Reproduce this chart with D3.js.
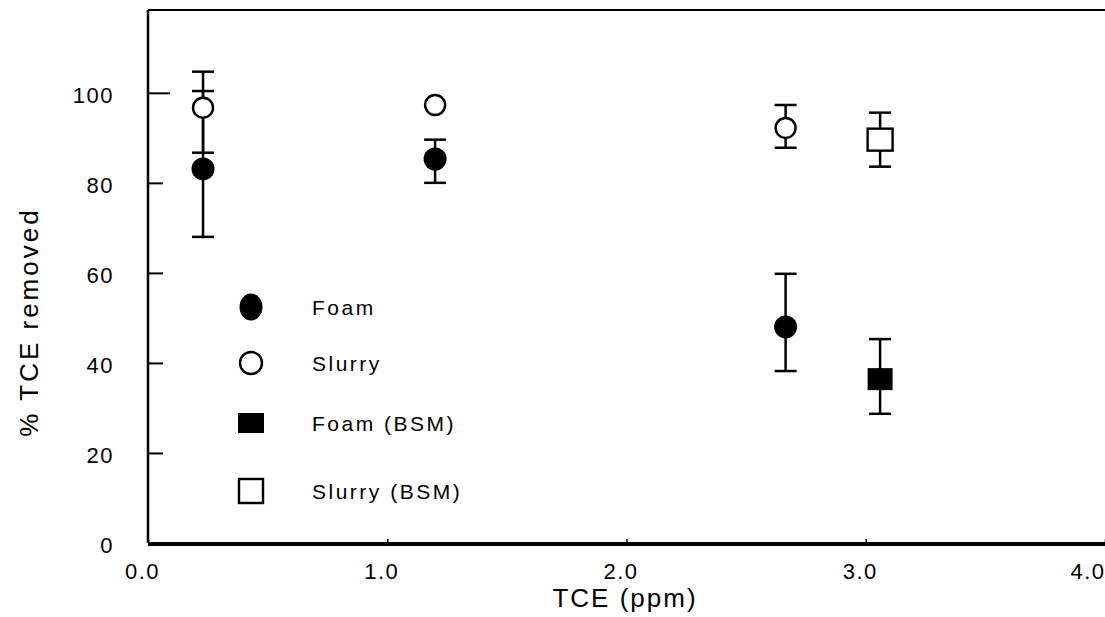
<!DOCTYPE html>
<html>
<head>
<meta charset="utf-8">
<script src="https://cdn.jsdelivr.net/npm/d3@7"></script>
<style>
  html, body { margin: 0; padding: 0; background: #fff; }
  svg { display: block; font-family: "Liberation Sans", Arial, sans-serif; }
</style>
</head>
<body>
<div id="chart"></div>
<script>
// values
const seriesNames = ['Foam', 'Slurry', 'Foam (BSM)', 'Slurry (BSM)'];

const foamX = [0.23, 1.20, 2.665];
const foamY = [83.1, 85.3, 48.0];
const foamHi = [100.4, 89.6, 59.8];
const foamLo = [68.0, 80.0, 38.2];

const slurryX = [0.23, 1.20, 2.665];
const slurryY = [96.7, 97.3, 92.2];
const slurryHi = [104.7, null, 97.3];
const slurryLo = [86.7, null, 87.8];

const foamBsmX = [3.06];
const foamBsmY = [36.4];
const foamBsmHi = [45.3];
const foamBsmLo = [28.7];

const slurryBsmX = [3.06];
const slurryBsmY = [89.6];
const slurryBsmHi = [95.6];
const slurryBsmLo = [83.6];

const xTicks = [0, 1, 2, 3, 4];
const yTicks = [0, 20, 40, 60, 80, 100];

function pack(xs, ys, his, los) {
    return xs.map((x, i) => ({ x: x, y: ys[i], hi: his[i], lo: los[i] }));
}

const series = [
    { name: seriesNames[0], shape: 'circle', filled: true, data: pack(foamX, foamY, foamHi, foamLo) },
    { name: seriesNames[1], shape: 'circle', filled: false, data: pack(slurryX, slurryY, slurryHi, slurryLo) },
    { name: seriesNames[2], shape: 'square', filled: true, data: pack(foamBsmX, foamBsmY, foamBsmHi, foamBsmLo) },
    { name: seriesNames[3], shape: 'square', filled: false, data: pack(slurryBsmX, slurryBsmY, slurryBsmHi, slurryBsmLo) }
];

const width = 1105;
const height = 617;
const margin = { top: 10, right: 0, bottom: 74, left: 148 };

const svg = d3.select('#chart')
    .append('svg')
    .attr('width', width)
    .attr('height', height);

const x = d3.scaleLinear()
    .domain([0, 4])
    .range([margin.left, width - margin.right]);

const y = d3.scaleLinear()
    .domain([0, 118.4])
    .range([height - margin.bottom, margin.top]);

// frame: top + left lines
svg.append('line')
    .attr('x1', margin.left).attr('x2', width)
    .attr('y1', margin.top).attr('y2', margin.top)
    .attr('stroke', '#000').attr('stroke-width', 2);

svg.append('line')
    .attr('x1', margin.left).attr('x2', margin.left)
    .attr('y1', margin.top).attr('y2', y(0))
    .attr('stroke', '#000').attr('stroke-width', 2.5);

// Y axis (ticks point inward)
const yAxis = svg.append('g')
    .attr('transform', `translate(${margin.left},0)`)
    .call(d3.axisRight(y).tickValues(yTicks).tickSize(15).tickPadding(0).tickFormat(d3.format('d')));
yAxis.select('.domain').remove();
yAxis.selectAll('.tick line')
    .attr('stroke-width', 2)
    .attr('x2', d => d === 100 ? 22 : 15)
    .style('display', d => d === 0 ? 'none' : null);
yAxis.selectAll('.tick text')
    .attr('x', -34)
    .attr('y', 2)
    .attr('dy', '0.36em')
    .attr('text-anchor', 'end')
    .attr('font-size', 22)
    .attr('letter-spacing', 1.5)
    .attr('fill', '#000');

// X axis (thick baseline, small ticks upward)
const xAxis = svg.append('g')
    .attr('transform', `translate(0,${y(0)})`)
    .call(d3.axisBottom(x).tickValues(xTicks).tickSize(0).tickPadding(0).tickFormat(d3.format('.1f')));
xAxis.select('.domain').remove();
svg.append('line')
    .attr('x1', margin.left).attr('x2', width)
    .attr('y1', y(0) + 1).attr('y2', y(0) + 1)
    .attr('stroke', '#000').attr('stroke-width', 4);
xAxis.selectAll('.tick line')
    .attr('y2', -4)
    .attr('stroke-width', 1.5);
xAxis.selectAll('.tick text')
    .attr('y', 36)
    .attr('dy', 0)
    .attr('dx', d => d === 4 ? 0 : -6)
    .attr('text-anchor', d => d === 4 ? 'end' : 'middle')
    .attr('font-size', 22)
    .attr('letter-spacing', 1.5)
    .attr('fill', '#000');

// axis titles
svg.append('text')
    .attr('x', 625)
    .attr('y', 607)
    .attr('text-anchor', 'middle')
    .attr('font-size', 26)
    .attr('letter-spacing', 2)
    .text('TCE (ppm)');

svg.append('text')
    .attr('transform', 'translate(38,322) rotate(-90)')
    .attr('text-anchor', 'middle')
    .attr('font-size', 26)
    .attr('letter-spacing', 3)
    .text('% TCE removed');

// error bars
const capHalf = 11;
const bars = series.flatMap(s => s.data.filter(d => d.hi != null));
const eb = svg.append('g').attr('stroke', '#000').attr('stroke-width', 2.5);
bars.forEach(d => {
    eb.append('line').attr('x1', x(d.x)).attr('x2', x(d.x)).attr('y1', y(d.hi)).attr('y2', y(d.lo));
    eb.append('line').attr('x1', x(d.x) - capHalf).attr('x2', x(d.x) + capHalf).attr('y1', y(d.hi)).attr('y2', y(d.hi));
    eb.append('line').attr('x1', x(d.x) - capHalf).attr('x2', x(d.x) + capHalf).attr('y1', y(d.lo)).attr('y2', y(d.lo));
});

// markers
function drawMarker(g, shape, filled, cx, cy, legendSize) {
    let w, h;
    if (shape === 'circle') {
        if (legendSize) { w = filled ? 23 : 22; h = filled ? 27 : 22; }
        else { w = filled ? 23 : 20; h = filled ? 23 : 20; }
        g.append('ellipse')
            .attr('cx', cx).attr('cy', cy)
            .attr('rx', w / 2).attr('ry', h / 2)
            .attr('fill', filled ? '#000' : '#fff')
            .attr('stroke', '#000').attr('stroke-width', filled ? 0 : 2.4);
    } else {
        if (legendSize) { w = filled ? 26 : 24; h = filled ? 20 : 24; }
        else { w = 25; h = 22; }
        g.append('rect')
            .attr('x', cx - w / 2).attr('y', cy - h / 2)
            .attr('width', w).attr('height', h)
            .attr('fill', filled ? '#000' : '#fff')
            .attr('stroke', '#000').attr('stroke-width', filled ? 0 : 2.4);
    }
}

const marks = svg.append('g');
series.forEach(s => {
    s.data.forEach(d => drawMarker(marks, s.shape, s.filled, x(d.x), y(d.y), false));
});

// legend
const legendY = [307, 363, 423, 491];
const legend = svg.append('g');
series.forEach((s, i) => {
    drawMarker(legend, s.shape, s.filled, 251, legendY[i], true);
    legend.append('text')
        .attr('x', 312)
        .attr('y', legendY[i])
        .attr('dy', '0.36em')
        .attr('font-size', 21)
        .attr('letter-spacing', 2.5)
        .text(s.name);
});
</script>
</body>
</html>
